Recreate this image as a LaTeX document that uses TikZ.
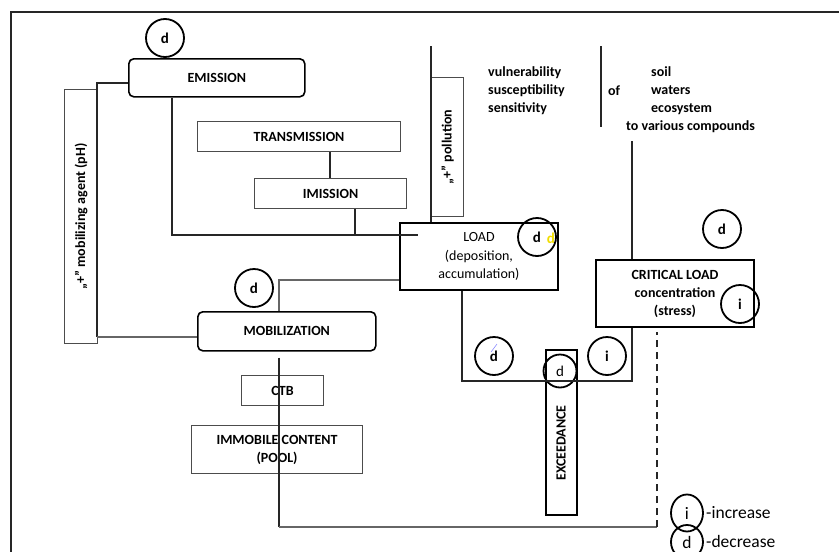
\documentclass[tikz,border=0pt]{standalone}
\usepackage{fontspec}
\setmainfont{Carlito}
\usepackage{graphicx}
\usetikzlibrary{shapes.geometric,calc}
\tikzset{
  txtb/.style={font=\fontsize{14}{18}\selectfont\bfseries},
  txtr/.style={font=\fontsize{14}{18.5}\selectfont},
  boxthin/.style={draw=black!70, line width=1.1pt, inner sep=0pt, anchor=north west, align=center, txtb},
  boxthick/.style={boxthin, draw=black, line width=2pt},
  roundbox/.style={boxthin, draw=black, line width=1.6pt, rounded corners=5pt},
  circ/.style={circle, draw, line width=1.8pt, minimum size=38pt, inner sep=0pt, font=\fontsize{15}{18}\selectfont\bfseries},
  legc/.style={ellipse, draw, line width=1.8pt, minimum width=32pt, minimum height=37pt, inner sep=0pt, font=\fontsize{17.5}{20}\selectfont},
  legt/.style={anchor=base west, inner sep=0pt, font=\fontsize{17.5}{20}\selectfont},
  conn/.style={line width=1.3pt, draw=black!85},
  connlight/.style={line width=1.1pt, draw=black!60},
  plain/.style={anchor=west, inner sep=0pt, align=left, txtb},
}
\begin{document}
\begin{tikzpicture}[x=1pt,y=-1pt]
\useasboundingbox (0,0) rectangle (839,552);
\clip (0,0) rectangle (839,552);
% frame
\draw[line width=2.5pt, black!85] (11,560) -- (11,12) -- (845,12);

% boxes
\node[roundbox, minimum width=176pt, minimum height=38pt] (emission) at (128,58) {EMISSION};
\node[boxthin, minimum width=203pt, minimum height=30pt] (trans) at (197,121) {TRANSMISSION};
\node[boxthin, minimum width=152pt, minimum height=30pt] (imis) at (254,178) {IMISSION};
\node[boxthin, minimum width=33pt, minimum height=254pt] (agent) at (64,89) {\rotatebox{90}{„+” mobilizing agent (pH)}};
\node[boxthin, minimum width=32pt, minimum height=139pt] (poll) at (431,77) {\rotatebox{90}{„+” pollution}};
\node[boxthick, minimum width=158pt, minimum height=67pt, txtr] (load) at (399,222) {LOAD\\(deposition,\\accumulation)};
\node[roundbox, minimum width=178pt, minimum height=39pt] (mobil) at (197,311) {MOBILIZATION};
\node[boxthin, minimum width=82pt, minimum height=30pt] (ctb) at (241,375) {CTB};
\node[boxthin, minimum width=171pt, minimum height=48pt] (pool) at (191,425) {IMMOBILE CONTENT\\(POOL)};
\node[boxthick, minimum width=31pt, minimum height=165pt] (exc) at (545,349) {};
\node[rotate=90, inner sep=0pt, txtb] (exctext) at (561,443) {EXCEEDANCE};
\node[boxthick, minimum width=158pt, minimum height=67pt] (crit) at (595,259) {CRITICAL LOAD\\concentration\\(stress)};

% top texts
\node[plain] (vul) at (488,91) {vulnerability\\susceptibility\\sensitivity};
\node[plain] (of) at (608,91) {of};
\node[plain] (soil) at (651,91) {soil\\waters\\ecosystem};
\node[plain] (comp) at (626,127) {to various compounds};

% circles
\node[circ] (c1) at (165,38) {d};
\node[circ] (c2) at (537,237) {d};
\node[inner sep=0pt, font=\fontsize{15}{18}\selectfont\bfseries, text={rgb,255:red,240;green,220;blue,0}] (c2y) at (551,238) {d};
\node[circ] (c3) at (722,229) {d};
\node[circ] (c4) at (254,288) {d};
\node[circ] (c5) at (740,304) {i};
\node[circ] (c6) at (494,356) {d};
\node[circ] (c7) at (607,356) {i};
\node[circ, minimum size=33pt, font=\fontsize{15}{18}\selectfont] (c8) at (560,371) {d};
\draw[blue!45, line width=0.6pt] (491,352) -- (497,344);

% legend
\node[legc] (li) at (687,513) {i};
\node[legt] (lit) at (706,518) {-increase};
\node[legc, minimum height=34pt] (ld) at (687,542) {d};
\node[legt] (ldt) at (706,547) {-decrease};

% connectors
\draw[conn] (emission.west |- 0,83) -- (97,83) -- (97,337);
\draw[connlight] (97,337) -- (mobil.west |- 0,337);
\draw[conn] (emission.south -| 172,0) -- (172,235) -- (418,235);
\draw[conn] (trans.south -| 330,0) -- (imis.north -| 330,0);
\draw[conn] (imis.south -| 355,0) -- (355,235);
\coordinate (ptop) at (431,46);
\draw[conn] (ptop) -- (load.north -| ptop);
\draw[conn] (601,46) -- (601,127);
\draw[connlight] (load.west |- 0,280) -- (279,280) -- (mobil.north -| 279,0);
\draw[conn] (load.south -| 462,0) -- (462,381) -- (632,381) -- (crit.south -| 632,0);
\coordinate (ctop) at (632,141);
\draw[conn] (ctop) -- (crit.north -| ctop);
\draw[conn] ($(mobil.south -| 279,0)+(0,6)$) -- (279,527);
\draw[connlight] (279,527) -- (657,527);
\draw[conn, dash pattern=on 7pt off 5pt] (657,527) -- ($(crit.south -| 657,0)+(0,4)$);
\end{tikzpicture}
\end{document}
